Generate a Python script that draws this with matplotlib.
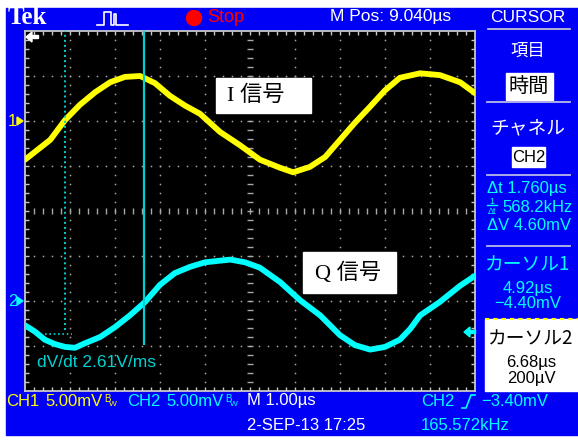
import matplotlib
matplotlib.use("Agg")
import matplotlib.pyplot as plt
from matplotlib.patches import Rectangle, Circle, Polygon

# scope settings shown on screen
M_POS_US = 9.040
US_PER_DIV = 1.0
MV_PER_DIV = 5.0
CH1_OFFSET_DIV = 2.0
CH2_OFFSET_DIV = -2.0
CURSOR1_US = 4.92
CURSOR2_US = 6.68

# traces: time in us, level in mV
ch1_time = [4.04, 4.37, 4.60, 4.93, 5.26, 5.60, 5.93, 6.26, 6.60, 6.93,
            7.26, 7.60, 7.93, 8.37, 8.82, 9.26, 9.71, 10.00, 10.37, 10.71,
            11.04, 11.37, 11.71, 12.04, 12.37, 12.82, 13.26, 13.71, 14.04]
ch1_mv = [-4.3, -3.0, -2.1, 0.1, 1.8, 3.2, 4.3, 4.9, 5.0, 4.2,
          2.8, 1.7, 0.8, -1.2, -2.7, -4.3, -5.2, -5.7, -5.1, -4.0,
          -2.1, -0.2, 1.6, 3.4, 4.8, 5.3, 5.1, 4.3, 3.1]
ch2_time = [4.04, 4.26, 4.48, 4.71, 4.93, 5.15, 5.37, 5.71, 6.04, 6.37,
            6.71, 7.04, 7.37, 7.71, 8.04, 8.60, 8.93, 9.26, 9.71, 10.15,
            10.60, 11.04, 11.37, 11.71, 12.04, 12.37, 12.60, 12.82, 13.26, 13.71, 14.04]
ch2_mv = [-2.7, -3.4, -4.3, -4.8, -5.1, -5.2, -4.7, -4.0, -2.9, -1.6,
          -0.1, 1.8, 3.1, 3.8, 4.3, 4.6, 4.3, 3.7, 2.1, 0.1,
          -1.6, -3.8, -4.9, -5.4, -5.1, -4.3, -3.1, -1.6, -0.1, 1.7, 2.8]

# readouts
top_labels = ["Tek", "Stop", "M Pos: 9.040µs", "CURSOR"]
menu_labels = ["項目", "時間", "チャネル", "CH2"]
delta_labels = ["Δt 1.760µs", "568.2kHz", "ΔV 4.60mV"]
cursor1_labels = ["カーソル1", "4.92µs", "−4.40mV"]
cursor2_labels = ["カーソル2", "6.68µs", "200µV"]
signal_labels = ["I 信号", "Q 信号"]

BLUE = "#0000F6"
YELLOW = "#FFFF00"
CYAN = "#00FFFF"
CURSOR_CYAN = "#00D2D2"
GRID = "#A8A8A8"
W, H = 578, 440

SCOPE = ["Liberation Sans", "DejaVu Sans"]
JP = ["Noto Sans CJK JP", "DejaVu Sans"]
SERIF_JP = ["Liberation Serif", "Noto Sans CJK JP"]

fig = plt.figure(figsize=(W / 100, H / 100), dpi=100, facecolor="white")

bg = fig.add_axes([0, 0, 1, 1], zorder=0)
bg.set_xlim(0, W)
bg.set_ylim(H, 0)
bg.axis("off")
bg.add_patch(Rectangle((6, 8), W - 6, 427, color=BLUE))

# scope screen
SX0, SY0, SX1, SY1 = 25, 31, 475, 391
ax = fig.add_axes([SX0 / W, 1 - SY1 / H, (SX1 - SX0) / W, (SY1 - SY0) / H], zorder=1)
t0 = M_POS_US - 5 * US_PER_DIV
ax.set_xlim(t0, t0 + 10 * US_PER_DIV)
ax.set_ylim(-4, 4)
ax.set_facecolor("black")
ax.set_xticks([])
ax.set_yticks([])
for s in ax.spines.values():
    s.set_color("#C8C8C8")
    s.set_linewidth(1.3)

sub = 0.2
tick = 4 / 45
xs = [t0 + k * sub for k in range(1, 50)]
ys = [-4 + k * sub for k in range(1, 40)]
# dotted graticule
for i in range(1, 10):
    x = t0 + i * US_PER_DIV
    if i == 5:
        ax.hlines(ys, x - 3 / 45, x + 3 / 45, color=GRID, lw=1.0)
    else:
        ax.plot([x] * len(ys), ys, ls="none", marker="s", ms=1.1, mew=0, color=GRID)
for j in range(-3, 4):
    if j == 0:
        ax.vlines(xs, -3 / 45, 3 / 45, color=GRID, lw=1.0)
    else:
        ax.plot(xs, [j] * len(xs), ls="none", marker="s", ms=1.1, mew=0, color=GRID)
# border ticks
ax.vlines(xs, 4 - tick, 4, color="#C8C8C8", lw=1.0)
ax.vlines(xs, -4, -4 + tick, color="#C8C8C8", lw=1.0)
ax.hlines(ys, t0, t0 + tick, color="#C8C8C8", lw=1.0)
ax.hlines(ys, t0 + 10 - tick, t0 + 10, color="#C8C8C8", lw=1.0)

# traces
ch1_div = [CH1_OFFSET_DIV + v / MV_PER_DIV for v in ch1_mv]
ch2_div = [CH2_OFFSET_DIV + v / MV_PER_DIV for v in ch2_mv]
ax.plot(ch1_time, ch1_div, color=YELLOW, lw=4.2, solid_joinstyle="round",
        solid_capstyle="round", zorder=5)
ax.plot(ch2_time, ch2_div, color=CYAN, lw=4.2, solid_joinstyle="round",
        solid_capstyle="round", zorder=5)

# cursors
ax.vlines(CURSOR2_US, -2.98, 4, color=CURSOR_CYAN, lw=1.6, zorder=6)
ax.vlines(CURSOR1_US, -2.64, 4, color=CURSOR_CYAN, lw=1.4,
          linestyles=(0, (1, 1.6)), zorder=6)
ax.hlines(-2.73, CURSOR1_US - 0.44, CURSOR1_US + 0.16, color=CURSOR_CYAN, lw=1.2,
          linestyles=(0, (1, 1.6)), zorder=6)
ax.text(t0 + 12 / 45, -3.36, "dV/dt 2.61V/ms", color=CURSOR_CYAN, family=SCOPE,
        fontsize=12.5, va="center", ha="left", zorder=7)

fg = fig.add_axes([0, 0, 1, 1], zorder=2)
fg.set_xlim(0, W)
fg.set_ylim(H, 0)
fg.axis("off")
fg.patch.set_alpha(0)

# top bar
fg.text(8, 18, top_labels[0], color="white", family="Liberation Serif",
        weight="bold", fontsize=18, va="center")
fg.plot([97, 104, 104, 111, 111, 114, 114, 116, 116, 128],
        [25, 25, 12, 12, 25, 25, 14, 14, 25, 25], color="white", lw=1.2)
fg.add_patch(Circle((194, 18), 7.5, color="red"))
fg.text(207, 18, top_labels[1], color="red", family=SCOPE, fontsize=13, va="center")
fg.text(330, 17, top_labels[2], color="white", family=SCOPE, fontsize=12.5, va="center")
fg.text(528, 17, top_labels[3], color="white", family=SCOPE, fontsize=12.5,
        va="center", ha="center")
fg.plot([488, 570], [29, 29], color="#D0D0D0", lw=1.2)

# ground markers and arrows
fg.text(8, 121, "1", color=YELLOW, family=SCOPE, fontsize=12, va="center")
fg.add_patch(Polygon([(17, 117), (23, 121), (17, 125)], color=YELLOW))
fg.text(8, 301, "2", color=CYAN, family=SCOPE, fontsize=12, va="center")
fg.add_patch(Polygon([(17, 297), (23, 301), (17, 305)], color=CYAN))
fg.add_patch(Polygon([(26, 37), (32, 32), (32, 42)], color="white"))
fg.add_patch(Rectangle((32, 35.5), 6, 3, color="white"))
fg.add_patch(Polygon([(464, 332), (470, 327), (470, 337)], color=CYAN))
fg.add_patch(Rectangle((470, 330.5), 5, 3, color=CYAN))

# right menu
sep = "#B8B8E8"
fg.text(528, 51, menu_labels[0], color="white", family=JP, fontsize=12.5,
        va="center", ha="center")
fg.add_patch(Rectangle((506, 73), 47, 27, color="white"))
fg.text(529, 86, menu_labels[1], color="black", family=JP, fontsize=14.5,
        va="center", ha="center")
fg.plot([487, 570], [102, 102], color=sep, lw=1.3)
fg.text(528, 128, menu_labels[2], color="white", family=JP, fontsize=13.5,
        va="center", ha="center")
fg.add_patch(Rectangle((512, 147), 33, 20, color="white"))
fg.text(528.5, 157, menu_labels[3], color="black", family=SCOPE, fontsize=12,
        va="center", ha="center")
fg.plot([487, 570], [175, 175], color=sep, lw=1.3)
fg.text(487, 189, delta_labels[0], color=CYAN, family=SCOPE, fontsize=12, va="center")
fg.text(492, 201, "1", color=CYAN, family=SCOPE, fontsize=6.5, va="center", ha="center")
fg.plot([487, 497], [205.5, 205.5], color=CYAN, lw=1)
fg.text(492, 211, "Δt", color=CYAN, family=SCOPE, fontsize=6.5, va="center", ha="center")
fg.text(502, 207, delta_labels[1], color=CYAN, family=SCOPE, fontsize=12, va="center")
fg.text(487, 226, delta_labels[2], color=CYAN, family=SCOPE, fontsize=12, va="center")
fg.plot([487, 570], [246, 246], color=sep, lw=1.3)
fg.text(528, 265, cursor1_labels[0], color=CYAN, family=JP, fontsize=13.5,
        va="center", ha="center")
fg.text(528, 289, cursor1_labels[1], color=CYAN, family=SCOPE, fontsize=12,
        va="center", ha="center")
fg.text(528, 304, cursor1_labels[2], color=CYAN, family=SCOPE, fontsize=12,
        va="center", ha="center")
fg.add_patch(Rectangle((485, 319), 93, 72, color="white"))
fg.plot([485, 578], [319.5, 319.5], color=YELLOW, lw=1.5, ls=(0, (2, 2)))
fg.text(531, 339, cursor2_labels[0], color="black", family=JP, fontsize=13.5,
        va="center", ha="center")
fg.text(531, 362, cursor2_labels[1], color="black", family=SCOPE, fontsize=12,
        va="center", ha="center")
fg.text(531, 378, cursor2_labels[2], color="black", family=SCOPE, fontsize=12,
        va="center", ha="center")

# bottom readouts
row1, row2 = 401, 425
fg.text(6, row1, "CH1", color=YELLOW, family=SCOPE, fontsize=12, va="center")
fg.text(45, row1, "5.00mV", color=YELLOW, family=SCOPE, fontsize=12, va="center")
fg.text(104, row1 - 2, "B", color=YELLOW, family=SCOPE, fontsize=7, va="center")
fg.text(109, row1 + 3, "W", color=YELLOW, family=SCOPE, fontsize=6, va="center")
fg.text(127, row1, "CH2", color=CYAN, family=SCOPE, fontsize=12, va="center")
fg.text(166, row1, "5.00mV", color=CYAN, family=SCOPE, fontsize=12, va="center")
fg.text(225, row1 - 2, "B", color=CYAN, family=SCOPE, fontsize=7, va="center")
fg.text(230, row1 + 3, "W", color=CYAN, family=SCOPE, fontsize=6, va="center")
fg.text(247, row1, "M 1.00µs", color="white", family=SCOPE, fontsize=12, va="center")
fg.text(421, row1, "CH2", color=CYAN, family=SCOPE, fontsize=12, va="center")
fg.plot([462, 466, 471, 475], [408, 408, 395, 395], color=CYAN, lw=1.2)
fg.text(481, row1, "−3.40mV", color=CYAN, family=SCOPE, fontsize=12, va="center")
fg.text(247, row2, "2-SEP-13 17:25", color="white", family=SCOPE, fontsize=12,
        va="center")
fg.text(421, row2, "165.572kHz", color=CYAN, family=SCOPE, fontsize=12, va="center")

# annotation boxes
fg.add_patch(Rectangle((216, 78), 95, 35, color="white", zorder=8))
fg.text(227, 96, signal_labels[0], color="black", family=SERIF_JP,
        fontsize=16, va="center", zorder=9)
fg.add_patch(Rectangle((303, 252), 93, 41, color="white", zorder=8))
fg.text(315, 273, signal_labels[1], color="black", family=SERIF_JP,
        fontsize=16, va="center", zorder=9)

fig.savefig("out.png", dpi=100, facecolor="white")
